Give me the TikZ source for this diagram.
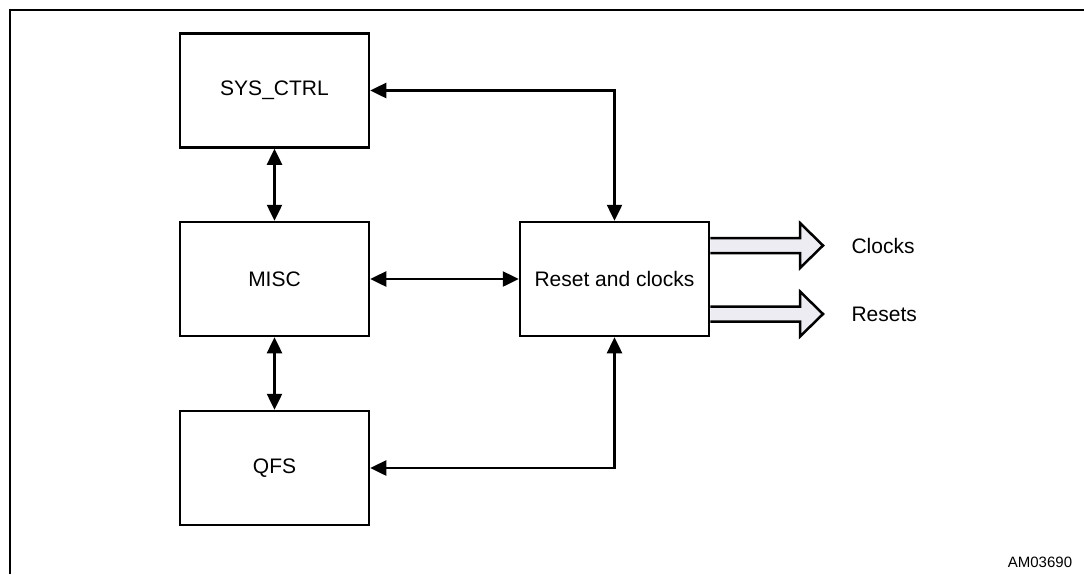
\documentclass[tikz,border=0pt]{standalone}
\usepackage{fontspec}
\setmainfont{Liberation Sans}
\usetikzlibrary{arrows.meta}
\definecolor{arrowfill}{RGB}{236,236,242}

\tikzset{
	block/.style={draw, line width=2.5pt, minimum width=189pt, minimum height=114pt,
		font=\fontsize{21}{25}\selectfont},
	link/.style={line width=2.5pt, {Triangle[length=16pt,width=15pt]}-{Triangle[length=16pt,width=15pt]}},
	fatarrow/.style={draw, line width=2.5pt, fill=arrowfill, line join=miter},
	outlabel/.style={anchor=west, font=\fontsize{21}{25}\selectfont}
}

\begin{document}
\begin{tikzpicture}[x=1pt,y=-1pt]
	\useasboundingbox (0,0) rectangle (1084,574);
% frame
	\draw[line width=2.5pt] (10,574) -- (10,10) -- (1084,10);
% blocks
	\node[block] (sysctrl) at (274.5,90.5) {SYS\_CTRL};
	\node[block] (misc) at (274.5,279) {MISC};
	\node[block] (qfs) at (274.5,468) {QFS};
	\node[block] (reset) at (614.5,279) {Reset and clocks};
% links between blocks
	\draw[link] (sysctrl.south) -- (misc.north);
	\draw[link] (misc.south) -- (qfs.north);
	\draw[link] (misc.east) -- (reset.west);
	\draw[link] (sysctrl.east) -| (reset.north);
	\draw[link] (qfs.east) -| (reset.south);
% outputs
	\draw[fatarrow] (reset.east |- 0,238) -- (800,238) -- (800,223) -- (823,245.5)
		-- (800,268) -- (800,253) -- (reset.east |- 0,253);
	\draw[fatarrow] (reset.east |- 0,306.5) -- (800,306.5) -- (800,291.5) -- (823,314)
		-- (800,336.5) -- (800,321.5) -- (reset.east |- 0,321.5);
	\node[outlabel] (clocks) at (848,245.5) {Clocks};
	\node[outlabel] (resets) at (848,314) {Resets};
% figure code
	\node[font=\fontsize{15}{18}\selectfont] (figid) at (1040,562) {AM03690};
\end{tikzpicture}
\end{document}
